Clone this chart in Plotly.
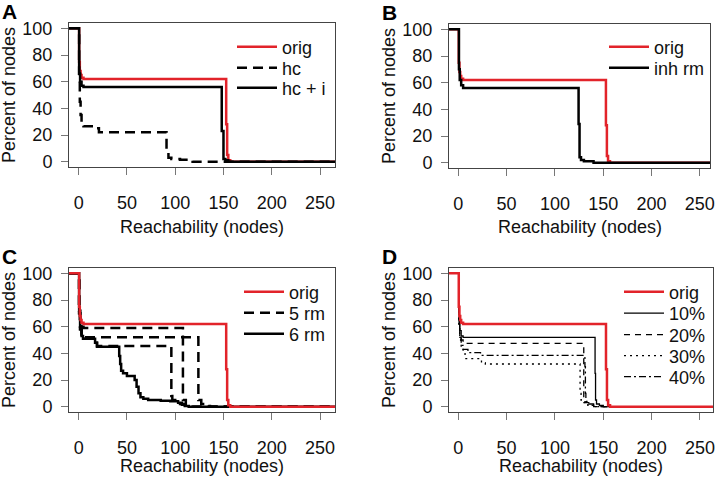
import plotly.graph_objects as go

# ---------------- data (step curves: x where level starts, level in %) ----------------
orig_x = [-10, 0.5, 1.2, 2, 3, 5, 152.8, 153.8, 155, 157, 270]
orig_y = [100, 75, 68, 65, 63, 62, 28, 5, 1, 0, 0]

hc_x = [-10, 0.5, 1.2, 2, 3, 5, 15, 21, 91, 93, 96, 105, 118, 270]
hc_y = [100, 66, 45, 35, 29, 26.5, 25, 22, 7, 3, 2, 1.5, 0, 0]

hci_x = [-10, 0.5, 1.5, 3, 5, 148.2, 150, 152, 155, 270]
hci_y = [100, 66, 60, 57, 56, 23, 2, 1, 0, 0]

inh_x = [-10, 0.7, 1.5, 3, 5, 124.5, 125.5, 127, 130, 140, 270]
inh_y = [100, 70, 62, 58, 56, 29, 4, 2, 1, 0, 0]

rm5_a_x = [-10, 0.5, 1.5, 3, 5, 108, 111, 118, 270]
rm5_a_y = [100, 72, 63, 60, 59, 5, 1, 0, 0]
rm5_b_x = [-10, 0.5, 1.5, 3, 6, 124, 127, 131, 136, 270]
rm5_b_y = [100, 70, 58, 54, 52, 5, 2, 0.5, 0, 0]
rm5_c_x = [-10, 0.5, 1.5, 3, 4.5, 17, 19, 96, 97, 100, 105, 110, 115, 270]
rm5_c_y = [100, 70, 58, 52, 51, 48, 45.5, 8, 5, 3.5, 2, 1, 0, 0]

rm6_x = [-10, 0.5, 1.5, 3, 4.5, 17, 19, 42, 43, 44, 46, 50, 58, 60, 62, 64, 67, 72, 85,
         95, 103, 107, 110, 114, 270]
rm6_y = [100, 72, 60, 53, 51, 48, 45, 38, 32, 27, 25, 23, 20, 15, 10, 7, 6, 5, 4.5,
         4, 3, 1.5, 0.5, 0, 0]

p10_x = [-10, 0.8, 1.5, 3, 5, 141.5, 142, 143, 146, 150, 270]
p10_y = [100, 65, 57, 53, 52, 25, 5, 2, 1, 0, 0]
p20_x = [-10, 0.8, 1.5, 3, 5, 129.8, 131, 135, 140, 270]
p20_y = [100, 62, 53, 50, 47.5, 5, 3, 1, 0, 0]
p30_x = [-10, 0.8, 1.5, 3, 5, 7, 24, 28, 126, 127, 130, 134, 140, 270]
p30_y = [100, 60, 50, 44, 41, 36, 33, 32, 10, 5, 3, 1, 0, 0]
p40_x = [-10, 0.8, 1.5, 3, 5, 10, 23, 131, 131.5, 132, 135, 140, 270]
p40_y = [100, 62, 52, 46, 43, 40.5, 38.5, 30, 10, 4, 2, 0, 0]

x_ticks = [0, 50, 100, 150, 200, 250]
y_ticks = [0, 20, 40, 60, 80, 100]
panel_labels = ["A", "B", "C", "D"]
x_title = "Reachability (nodes)"
y_title = "Percent of nodes"

# ---------------- styling ----------------
RED = "#E2232A"
BLACK = "#000000"
FONT = "Liberation Sans"
FS = 18
W, H = 715, 480

# panel boxes in pixels: (left, right, top, bottom)
boxes = [(69, 335, 23, 167), (449, 710, 24, 168), (69, 335, 268, 412), (449, 713, 268, 412)]
xranges = [[-10, 265.5], [-9.6, 260.5], [-10, 265.5], [-9.6, 263.5]]
xtitle_y = [227, 227, 466, 466]

# legend rows: (text left x, row centre y) per panel
legend_text_x = [283, 655, 290, 670]
legend_rows = [[47, 68, 88], [47, 68], [292, 313, 334], [292, 313.5, 335, 356, 377]]

fig = go.Figure()
leg_map = {}

def legend_key(panel, row):
    k = (panel, row)
    if k not in leg_map:
        n = len(leg_map) + 1
        leg_map[k] = "legend" if n == 1 else "legend" + str(n)
    return leg_map[k]

def add(panel, x, y, name, color, width, dash, row, show):
    sfx = "" if panel == 0 else str(panel + 1)
    fig.add_trace(go.Scatter(
        x=x, y=y, mode="lines", name=name, line=dict(color=color, width=width, dash=dash, shape="hv"),
        xaxis="x" + sfx, yaxis="y" + sfx, legend=legend_key(panel, row), showlegend=show,
        hoverinfo="skip"))

DASH = "10px,6px"
# A
add(0, orig_x, orig_y, "orig", RED, 2.5, "solid", 0, True)
add(0, hc_x, hc_y, "hc", BLACK, 2.5, DASH, 1, True)
add(0, hci_x, hci_y, "hc + i", BLACK, 2.5, "solid", 2, True)
# B
add(1, orig_x, orig_y, "orig", RED, 2.5, "solid", 0, True)
add(1, inh_x, inh_y, "inh rm", BLACK, 2.5, "solid", 1, True)
# C
add(2, rm6_x, rm6_y, "6 rm", BLACK, 2.5, "solid", 2, True)
add(2, rm5_a_x, rm5_a_y, "5 rm", BLACK, 2.5, DASH, 1, True)
add(2, rm5_b_x, rm5_b_y, "5 rm", BLACK, 2.5, DASH, 1, False)
add(2, rm5_c_x, rm5_c_y, "5 rm", BLACK, 2.5, DASH, 1, False)
add(2, orig_x, orig_y, "orig", RED, 2.5, "solid", 0, True)
# D
add(3, p10_x, p10_y, "10%", BLACK, 1.3, "solid", 1, True)
add(3, p20_x, p20_y, "20%", BLACK, 1.3, "6px,5px", 2, True)
add(3, p30_x, p30_y, "30%", BLACK, 1.3, "2px,4px", 3, True)
add(3, p40_x, p40_y, "40%", BLACK, 1.3, "7px,3px,2px,3px", 4, True)
add(3, orig_x, orig_y, "orig", RED, 2.5, "solid", 0, True)

layout = dict(
    width=W, height=H, margin=dict(l=0, r=0, t=0, b=0, autoexpand=False),
    paper_bgcolor="white", plot_bgcolor="white",
    font=dict(family=FONT, size=FS, color="#111"),
    annotations=[],
)

axis_common = dict(showgrid=False, zeroline=False, showline=True, mirror=True, automargin=False,
                   linecolor="#444", linewidth=1, ticks="outside", ticklen=7,
                   tickcolor="#777", tickwidth=1, tickfont=dict(family=FONT, size=FS, color="#111"))

for i, (l, r, t, b) in enumerate(boxes):
    sfx = "" if i == 0 else str(i + 1)
    layout["xaxis" + sfx] = dict(axis_common, domain=[l / W, r / W], range=xranges[i],
                                 tickvals=x_ticks, anchor="y" + sfx, ticklabelstandoff=12)
    layout["yaxis" + sfx] = dict(axis_common, domain=[1 - b / H, 1 - t / H], range=[-4, 104],
                                 tickvals=y_ticks, anchor="x" + sfx, ticklabelstandoff=5)
    cx = (l + r) / 2 / W
    layout["annotations"].append(dict(text=x_title, xref="paper", yref="paper", x=cx,
                                      y=1 - xtitle_y[i] / H, xanchor="center", yanchor="middle",
                                      showarrow=False, font=dict(size=FS)))
    layout["annotations"].append(dict(text=y_title, xref="paper", yref="paper",
                                      x=(l - 60) / W, y=1 - (t + b) / 2 / H, textangle=-90,
                                      xanchor="center", yanchor="middle", showarrow=False,
                                      font=dict(size=FS)))
    layout["annotations"].append(dict(text="<b>" + panel_labels[i] + "</b>", xref="paper",
                                      yref="paper", x=(l - 69) / W,
                                      y=1 - (t - 12) / H, xanchor="left", yanchor="middle",
                                      showarrow=False, font=dict(size=21, color="#000")))

for (panel, row), key in leg_map.items():
    lx = legend_text_x[panel] - 51
    ly = legend_rows[panel][row]
    layout[key] = dict(x=lx / W, y=1 - ly / H, xanchor="left", yanchor="middle",
                       bgcolor="rgba(0,0,0,0)", borderwidth=0, font=dict(size=FS),
                       itemwidth=40)

fig.update_layout(**layout)
fig.write_html("out.html", config={"displayModeBar": False},
               post_script="document.body.style.margin='0px';document.body.style.overflow='hidden';")
